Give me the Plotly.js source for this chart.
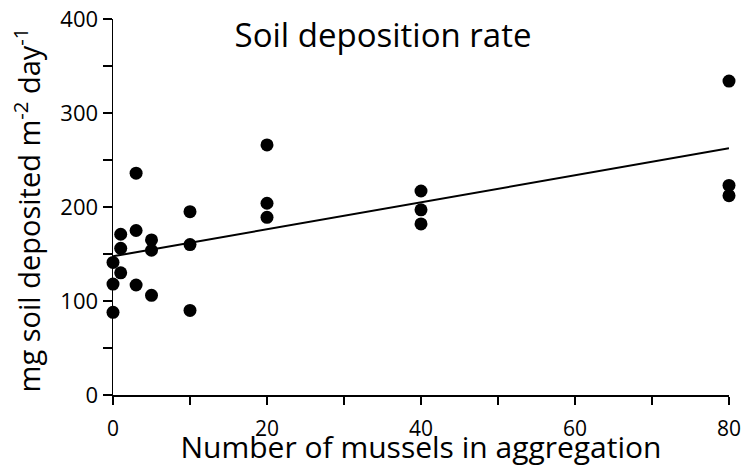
<!DOCTYPE html>
<html>
<head>
<meta charset="utf-8">
<script src="https://cdn.plot.ly/plotly-3.0.1.min.js"></script>
<style>html,body{margin:0;padding:0;background:#fff;}#chart{width:744px;height:467px;}</style>
</head>
<body>
<div id="chart"></div>
<script>
const musselCounts = [0,0,0, 1,1,1, 3,3,3, 5,5,5, 10,10,10, 20,20,20, 40,40,40, 80,80,80];
const depositionRates = [141,118,88, 171,156,130, 236,175,117, 165,154,106, 195,160,90, 266,204,189, 217,197,182, 334,223,212];
const xTickVals = [0,20,40,60,80];
const yTickVals = [0,100,200,300,400];

// least-squares trend line
const n = musselCounts.length;
const mx = musselCounts.reduce((a,b)=>a+b,0)/n;
const my = depositionRates.reduce((a,b)=>a+b,0)/n;
let sxy = 0, sxx = 0;
for (let i=0;i<n;i++){ sxy += (musselCounts[i]-mx)*(depositionRates[i]-my); sxx += (musselCounts[i]-mx)**2; }
const slope = sxy/sxx, intercept = my - slope*mx;
const trendX = [0, 80];
const trendY = trendX.map(x => intercept + slope*x);

const FONT = '"Open Sans", sans-serif';

const data = [
  {x: trendX, y: trendY, type:'scatter', mode:'lines', line:{color:'#000', width:2}, hoverinfo:'skip', cliponaxis:false},
  {x: musselCounts, y: depositionRates, type:'scatter', mode:'markers', marker:{color:'#000', size:13}, cliponaxis:false}
];

const layout = {
  width: 744, height: 467,
  margin: {l:113, r:15, t:19, b:72},
  paper_bgcolor:'#fff', plot_bgcolor:'#fff',
  showlegend:false,
  font:{family:FONT, color:'#000'},
  title:{text:'Soil deposition rate', font:{family:FONT, size:33, color:'#000'}, xref:'container', yref:'container', x:383/744, y:1-35/467, xanchor:'center', yanchor:'middle'},
  xaxis:{
    range:[0,80], tickvals:xTickVals, ticktext:xTickVals.map(String),
    showgrid:false, zeroline:false, showline:true, linecolor:'#000', linewidth:1.5,
    ticks:'outside', ticklen:8, tickwidth:1.3, tickcolor:'#000',
    minor:{dtick:10, tick0:0, ticks:'outside', ticklen:8, tickwidth:1.3, tickcolor:'#000', showgrid:false},
    tickfont:{family:FONT, size:21, color:'#000'}, ticklabelstandoff:6,
    title:{text:'Number of mussels in aggregation', font:{family:FONT, size:30, color:'#000'}, standoff:2}
  },
  yaxis:{
    range:[0,400], tickvals:yTickVals, ticktext:yTickVals.map(String), ticksuffix:'\u00a0\u00a0',
    showgrid:false, zeroline:false, showline:true, linecolor:'#000', linewidth:1.5,
    ticks:'outside', ticklen:9, tickwidth:1.3, tickcolor:'#000',
    minor:{dtick:50, tick0:0, ticks:'outside', ticklen:9, tickwidth:1.3, tickcolor:'#000', showgrid:false},
    tickfont:{family:FONT, size:22, color:'#000'}
  },
  annotations:[{
    text:'mg soil deposited m<sup>-2</sup> day<sup>-1</sup>', xref:'paper', yref:'paper',
    x:-86/616, y:0.491, xanchor:'center', yanchor:'middle', textangle:-90, showarrow:false,
    font:{family:FONT, size:29, color:'#000'}
  }]
};

Plotly.newPlot('chart', data, layout, {displayModeBar:false, staticPlot:true});
</script>
</body>
</html>
